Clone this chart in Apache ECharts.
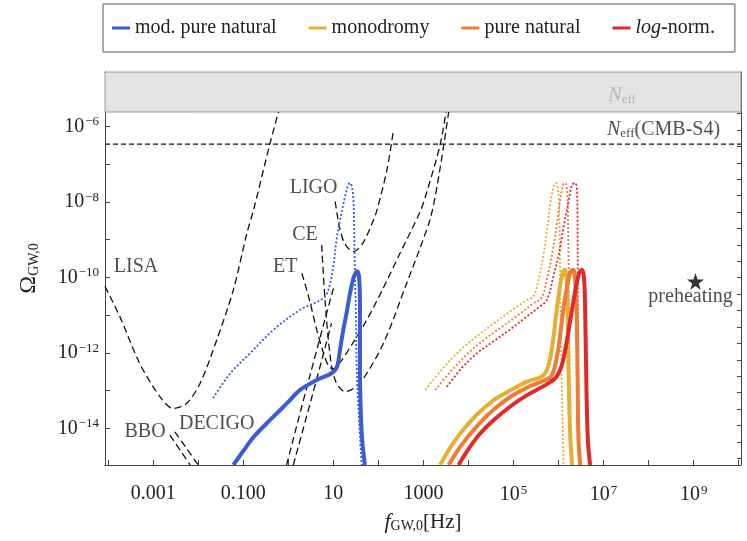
<!DOCTYPE html>
<html>
<head>
<meta charset="utf-8">
<script src="https://cdn.jsdelivr.net/npm/echarts@6/dist/echarts.min.js"></script>
<style>
  html, body { margin: 0; padding: 0; background: #fff; }
  #chart { width: 747px; height: 541px; }
</style>
</head>
<body>
<div id="chart"></div>
<script>
// all points are [log10(f / Hz), log10(Omega_GW,0)]
const xTickValues = [-3, -1, 1, 3, 5, 7, 9];
const xTickLabels = ['0.001', '0.100', '10', '1000', '10^5', '10^7', '10^9'];
const yTickValues = [-14, -12, -10, -8, -6];

const neffLevel = -5.62;
const cmbS4Level = -6.47;

// detector sensitivity curves
const lisa = [[-4.07,-10.24],[-3.74,-11.04],[-3.30,-12.28],[-2.85,-13.16],[-2.56,-13.47],[-2.26,-13.34],[-1.96,-12.81],[-1.59,-11.66],[-1.22,-10.33],[-0.92,-8.83],[-0.78,-8.25],[-0.41,-6.47],[-0.22,-5.62]];
const bboLeft = [[-2.63,-14.18],[-2.40,-14.58],[-2.18,-14.97]];
const bboRight = [[-0.04,-14.97],[0.48,-12.6],[1.0,-10.29]];
const decigoLeft = [[-2.52,-14.09],[-2.26,-14.53],[-2.0,-14.97]];
const decigoRight = [[0.11,-14.97],[0.55,-13.05],[0.96,-11.21]];
const et = [[0.30,-9.89],[0.47,-10.6],[0.63,-11.39],[0.78,-12.0],[0.90,-12.36],[1.0,-12.42],[1.15,-12.25],[1.40,-11.8],[1.74,-11.13],[2.1,-10.3],[2.48,-9.36],[2.93,-8.25],[3.08,-7.72],[3.37,-6.49],[3.50,-5.62]];
const ce = [[0.74,-9.14],[0.82,-10.68],[0.93,-12.1],[1.05,-12.75],[1.26,-13.03],[1.59,-12.8],[2.11,-11.75],[2.63,-10.15],[2.90,-9.3],[3.15,-8.45],[3.30,-7.6],[3.45,-6.5],[3.56,-5.62]];
const ligo = [[1.04,-7.99],[1.10,-8.45],[1.15,-8.74],[1.25,-9.1],[1.44,-9.32],[1.65,-9.1],[1.85,-8.6],[1.96,-8.25],[2.19,-7.15],[2.33,-6.13]];

// model spectra: solid and dotted variants
const modPureSolid = [[-1.22,-14.97],[-1.0,-14.6],[-0.75,-14.2],[-0.33,-13.69],[0.0,-13.3],[0.26,-12.98],[0.63,-12.72],[0.96,-12.54],[1.08,-12.37],[1.15,-11.9],[1.22,-11.39],[1.30,-10.9],[1.37,-10.42],[1.45,-10.0],[1.50,-9.87],[1.53,-9.84],[1.57,-10.0],[1.59,-10.7],[1.59,-12.45],[1.61,-13.6],[1.64,-14.3],[1.70,-14.97]];
const modPureDotted = [[-1.67,-13.2],[-1.45,-12.8],[-1.22,-12.45],[-0.85,-12.01],[-0.33,-11.39],[0.26,-10.86],[0.78,-10.55],[0.89,-10.33],[1.0,-9.7],[1.08,-8.92],[1.18,-8.3],[1.26,-7.86],[1.33,-7.55],[1.37,-7.5],[1.41,-7.6],[1.44,-7.86],[1.46,-8.6],[1.47,-9.36],[1.50,-11.0],[1.52,-12.45],[1.59,-14.22],[1.63,-14.97]];
const monoSolid = [[3.37,-14.97],[3.6,-14.5],[3.82,-14.13],[4.2,-13.62],[4.56,-13.25],[4.95,-12.98],[5.30,-12.76],[5.67,-12.59],[5.82,-12.1],[5.96,-10.86],[6.05,-10.1],[6.10,-9.85],[6.14,-9.8],[6.18,-10.1],[6.20,-10.7],[6.22,-12.45],[6.26,-14.22],[6.30,-14.97]];
const monoDotted = [[3.04,-12.98],[3.4,-12.45],[3.82,-11.92],[4.2,-11.55],[4.56,-11.22],[4.95,-10.88],[5.30,-10.6],[5.44,-10.51],[5.55,-10.1],[5.67,-9.36],[5.75,-8.7],[5.82,-8.03],[5.90,-7.55],[5.95,-7.5],[5.99,-7.7],[6.02,-8.5],[6.04,-10.68],[6.08,-13.34],[6.11,-14.97]];
const pureSolid = [[3.56,-14.97],[3.78,-14.55],[4.0,-14.2],[4.3,-13.8],[4.56,-13.5],[4.95,-13.15],[5.30,-12.92],[5.70,-12.72],[5.85,-12.6],[5.98,-12.0],[6.10,-10.9],[6.22,-10.05],[6.28,-9.82],[6.33,-9.8],[6.37,-10.1],[6.40,-10.9],[6.42,-12.45],[6.44,-14.22],[6.48,-14.97]];
const pureDotted = [[3.26,-12.98],[3.6,-12.5],[4.0,-12.0],[4.35,-11.65],[4.7,-11.35],[5.1,-11.0],[5.45,-10.68],[5.62,-10.55],[5.75,-10.0],[5.87,-9.3],[5.96,-8.6],[6.03,-8.0],[6.10,-7.55],[6.15,-7.5],[6.19,-7.7],[6.21,-8.5],[6.23,-10.68],[6.25,-13.34],[6.27,-14.97]];
const logNormSolid = [[3.78,-14.97],[4.0,-14.55],[4.25,-14.15],[4.56,-13.78],[4.95,-13.4],[5.30,-13.12],[5.75,-12.82],[5.96,-12.62],[6.10,-12.2],[6.26,-11.13],[6.38,-10.3],[6.46,-9.88],[6.52,-9.8],[6.57,-10.1],[6.60,-11.57],[6.62,-13.0],[6.65,-14.3],[6.70,-14.97]];
const logNormDotted = [[3.52,-12.9],[3.85,-12.4],[4.2,-12.0],[4.55,-11.7],[4.9,-11.4],[5.25,-11.08],[5.55,-10.8],[5.74,-10.6],[5.88,-10.0],[6.02,-9.3],[6.12,-8.6],[6.22,-8.0],[6.30,-7.55],[6.37,-7.5],[6.41,-7.7],[6.42,-8.3],[6.43,-10.68],[6.44,-13.34],[6.46,-14.97]];

const preheating = [9.04, -10.11];

// text annotations: [x, y, text]
const curveLabels = [
  [-3.38, -9.71, 'LISA'],
  [0.56, -7.63, 'LIGO'],
  [0.37, -8.87, 'CE'],
  [-0.07, -9.71, 'ET'],
  [-3.18, -14.09, 'BBO'],
  [-1.59, -13.87, 'DECIGO'],
  [8.93, -10.51, 'preheating'],
  [8.33, -6.09, '{n|N}{s|eff}(CMB-S4)'],
  [7.41, -5.20, '{ng|N}{sg|eff}']
];

const xMin = -4.07, xMax = 10.05, yMin = -14.97, yMax = -4.56;
const FONT = 'Liberation Serif';

const colors = {
  modPure: '#3c5cd4',
  mono: '#e5af33',
  pure: '#ee7c35',
  logNorm: '#e02a2a'
};

const decades = [];
for (let i = -4; i <= 10; i++) decades.push(i);
const yDecades = [];
for (let i = -14; i <= -5; i++) yDecades.push(i);
// odd frame ticks on the top and right edges
const topTicks = [];
for (let v = -3.63; v < xMax; v += 0.39) topTicks.push(v);
const rightTicks = [];
for (let v = -4.79; v > yMin; v -= 0.435) rightTicks.push(v);

function xLabel(v) {
  const i = xTickValues.indexOf(Math.round(v));
  if (i < 0) return '';
  const t = xTickLabels[i];
  if (t.indexOf('^') >= 0) {
    const p = t.split('^');
    return p[0] + '{sup|' + p[1] + '}';
  }
  return t;
}

const supRich = {
  sup: { fontFamily: FONT, fontSize: 13, color: '#222', verticalAlign: 'top', padding: [0, 0, 9, 1] }
};

function dashed(name, data) {
  return {
    name: name, type: 'line', data: data, showSymbol: false, smooth: 0.3,
    lineStyle: { color: '#111', width: 1.3, type: [7, 4] }, z: 2, silent: true
  };
}
function model(name, data, color, dotted) {
  return {
    name: name, type: 'line', data: data, showSymbol: false, smooth: 0.35,
    lineStyle: dotted ? { color: color, width: 1.8, type: [2, 2] } : { color: color, width: 4 },
    itemStyle: { color: color }, z: dotted ? 3 : 4, silent: true
  };
}

const chart = echarts.init(document.getElementById('chart'));
chart.setOption({
  animation: false,
  backgroundColor: '#fff',
  legend: {
    data: ['mod. pure natural', 'monodromy', 'pure natural', 'log-norm.'],
    left: 103, top: 4,
    padding: [14, 20, 14, 9],
    itemGap: 32, itemWidth: 18, itemHeight: 3,
    icon: 'rect',
    borderColor: '#555', borderWidth: 1,
    textStyle: {
      fontFamily: FONT, fontSize: 20, color: '#222',
      rich: { i: { fontFamily: FONT, fontSize: 20, fontStyle: 'italic', color: '#222' } }
    },
    formatter: function (n) { return n === 'log-norm.' ? '{i|log}-norm.' : n; }
  },
  grid: { left: 105, right: 6, top: 72, bottom: 76 },
  xAxis: [{
    type: 'value', min: xMin, max: xMax,
    name: '{f|f}{sub|GW,0}[Hz]', nameLocation: 'middle', nameGap: 46,
    nameTextStyle: {
      fontFamily: FONT, fontSize: 21, color: '#222',
      rich: {
        f: { fontFamily: FONT, fontSize: 22, fontStyle: 'italic', color: '#222' },
        sub: { fontFamily: FONT, fontSize: 14, color: '#222', verticalAlign: 'bottom', padding: [8, 0, 0, 0] }
      }
    },
    axisLine: { show: true, onZero: false, lineStyle: { color: '#444', width: 1 } },
    axisTick: { show: true, inside: true, length: 5, customValues: decades, lineStyle: { color: '#444' } },
    axisLabel: {
      customValues: xTickValues, formatter: xLabel, margin: 19,
      fontFamily: FONT, fontSize: 20, color: '#222', rich: supRich
    },
    splitLine: { show: false }
  }, {
    type: 'value', min: xMin, max: xMax, position: 'top',
    axisLine: { show: true, onZero: false, lineStyle: { color: '#444', width: 1 } },
    axisTick: { show: true, inside: true, length: 4, customValues: topTicks, lineStyle: { color: '#444' } },
    axisLabel: { show: false }, splitLine: { show: false }
  }],
  yAxis: [{
    type: 'value', min: yMin, max: yMax,
    name: 'Ω{sub|GW,0}', nameLocation: 'middle', nameGap: 64, nameRotate: 90,
    nameTextStyle: {
      fontFamily: FONT, fontSize: 24, color: '#222',
      rich: { sub: { fontFamily: FONT, fontSize: 14, color: '#222', verticalAlign: 'bottom', padding: [8, 0, 0, 0] } }
    },
    axisLine: { show: true, onZero: false, lineStyle: { color: '#444', width: 1 } },
    axisTick: { show: true, inside: true, length: 5, customValues: yDecades, lineStyle: { color: '#444' } },
    axisLabel: {
      customValues: yTickValues, margin: 6,
      formatter: function (v) { return '10{sup|−' + Math.round(-v) + '}'; },
      fontFamily: FONT, fontSize: 20, color: '#222', rich: supRich
    },
    splitLine: { show: false }
  }, {
    type: 'value', min: yMin, max: yMax, position: 'right',
    axisLine: { show: true, onZero: false, lineStyle: { color: '#444', width: 1 } },
    axisTick: { show: true, inside: true, length: 4, customValues: rightTicks, lineStyle: { color: '#444' } },
    axisLabel: { show: false }, splitLine: { show: false }
  }],
  series: [
    {
      name: 'CMB-S4', type: 'line', showSymbol: false, silent: true, z: 2,
      data: [[xMin, cmbS4Level], [xMax, cmbS4Level]],
      lineStyle: { color: '#111', width: 1.4, type: [5, 3] },
      markArea: {
        silent: true,
        itemStyle: { color: '#e3e3e3', borderColor: '#9a9a9a', borderWidth: 1 },
        data: [[{ yAxis: neffLevel }, { yAxis: yMax }]]
      }
    },
    dashed('LISA', lisa),
    dashed('BBO-l', bboLeft),
    dashed('BBO-r', bboRight),
    dashed('DECIGO-l', decigoLeft),
    dashed('DECIGO-r', decigoRight),
    dashed('ET', et),
    dashed('CE', ce),
    dashed('LIGO', ligo),
    model('mod. pure natural dotted', modPureDotted, colors.modPure, true),
    model('monodromy dotted', monoDotted, colors.mono, true),
    model('pure natural dotted', pureDotted, colors.pure, true),
    model('log-norm. dotted', logNormDotted, colors.logNorm, true),
    model('mod. pure natural', modPureSolid, colors.modPure, false),
    model('monodromy', monoSolid, colors.mono, false),
    model('pure natural', pureSolid, colors.pure, false),
    model('log-norm.', logNormSolid, colors.logNorm, false),
    {
      name: 'preheating star', type: 'scatter', silent: true, z: 5,
      data: [preheating],
      symbol: 'path://M50,0 L61.8,35.3 L99,35.3 L69,57.1 L80.4,92.7 L50,70.7 L19.6,92.7 L31,57.1 L1,35.3 L38.2,35.3 Z',
      symbolSize: 17, itemStyle: { color: '#000' }
    },
    {
      name: 'labels', type: 'scatter', silent: true, z: 6,
      data: curveLabels, symbolSize: 1, itemStyle: { color: 'rgba(0,0,0,0)' },
      label: {
        show: true, position: 'inside',
        formatter: function (p) { return p.data[2]; },
        fontFamily: FONT, fontSize: 20, color: '#222',
        rich: {
          n: { fontFamily: FONT, fontSize: 20, fontStyle: 'italic', color: '#222' },
          s: { fontFamily: FONT, fontSize: 13, color: '#222', verticalAlign: 'bottom', padding: [6, 0, 0, 0] },
          ng: { fontFamily: FONT, fontSize: 20, fontStyle: 'italic', color: '#aaa' },
          sg: { fontFamily: FONT, fontSize: 13, color: '#aaa', verticalAlign: 'bottom', padding: [6, 0, 0, 0] }
        }
      }
    }
  ]
});
</script>
</body>
</html>
